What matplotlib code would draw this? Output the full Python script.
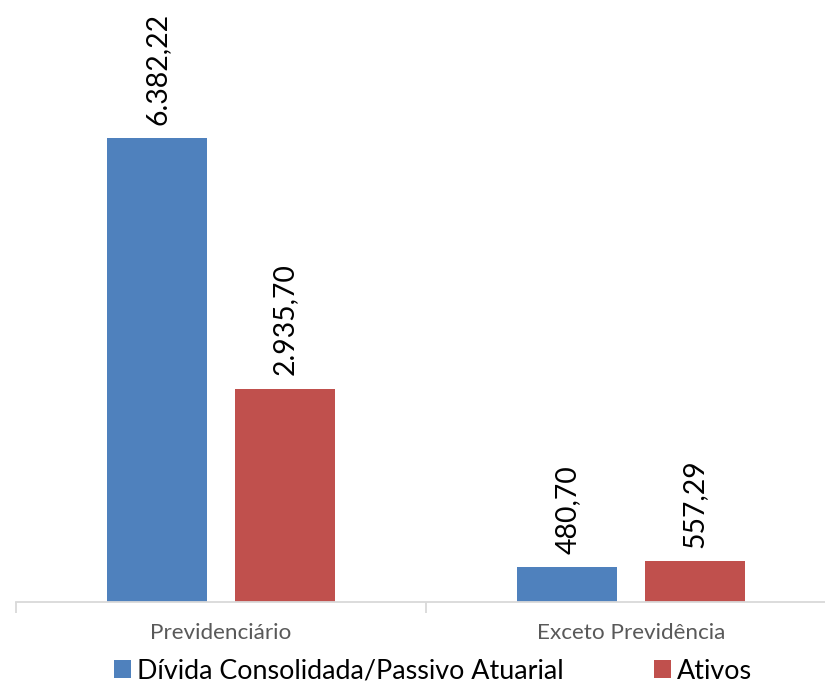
import matplotlib.pyplot as plt
import numpy as np
from matplotlib.patches import Patch

plt.rcParams['font.family'] = ['Lato', 'DejaVu Sans']

categorias = ['Previdenciário', 'Exceto Previdência']
series = ['Dívida Consolidada/Passivo Atuarial', 'Ativos']
divida = [6382.22, 480.70]
ativos = [2935.70, 557.29]
cores = ['#4F81BD', '#C0504D']


def fmt_br(v):
    # formato brasileiro: ponto no milhar, vírgula no decimal
    s = f"{v:,.2f}"
    return s.replace(',', 'X').replace('.', ',').replace('X', '.')


fig = plt.figure(figsize=(8.25, 6.87), dpi=100)
ax = fig.add_axes([16 / 825, 85 / 687, 820 / 825, 602 / 687])

x = np.arange(len(categorias))
larg = 0.244
desloc = 0.155

for valores, cor, dx in [(divida, cores[0], -desloc), (ativos, cores[1], desloc)]:
    ax.bar(x + dx, valores, width=larg, color=cor, zorder=2)
    for xi, v in zip(x + dx, valores):
        ax.text(xi, v + 180, fmt_br(v), rotation=90, ha='center', va='bottom',
                fontsize=20.4, color='black')

ax.set_xlim(-0.5, 1.5)
ax.set_ylim(0, 8280)

for s in ['top', 'right', 'left']:
    ax.spines[s].set_visible(False)
ax.spines['bottom'].set_color('#d9d9d9')
ax.spines['bottom'].set_linewidth(1.3)
ax.set_yticks([])

# marcas nas bordas das categorias, rótulos no centro
ax.set_xticks([-0.5, 0.5, 1.5])
ax.set_xticklabels([])
ax.tick_params(axis='x', which='major', length=8, color='#d9d9d9', width=1.3)
ax.set_xticks(x, minor=True)
ax.set_xticklabels(categorias, minor=True)
ax.tick_params(axis='x', which='minor', length=0, pad=15, labelsize=16.2,
               labelcolor='#595959')

handles = [Patch(facecolor=c, edgecolor='none') for c in cores]
fig.legend(handles, series, loc='lower center', bbox_to_anchor=(0.525, -0.011),
           ncol=2, frameon=False, fontsize=19.4, handlelength=0.63, handleheight=0.63,
           handletextpad=0.22, columnspacing=3.38, borderaxespad=0)

fig.savefig('out.png', dpi=100)
